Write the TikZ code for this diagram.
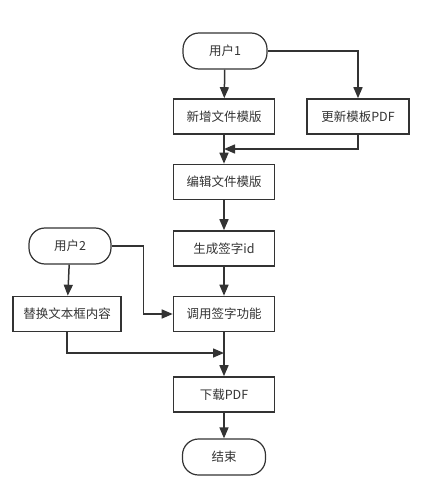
\documentclass[tikz,border=0pt]{standalone}
\usepackage{fontspec}
\setmainfont{Noto Sans CJK SC}
\usetikzlibrary{arrows.meta}
\definecolor{linegray}{HTML}{333333}
\tikzset{
  stepbox/.style={draw=linegray,line width=1.6pt,rectangle,minimum width=101pt,minimum height=35pt,inner sep=0pt,text=linegray},
  termbox/.style={draw=linegray,line width=1.2pt,rounded corners=16pt,minimum width=84pt,minimum height=36pt,inner sep=0pt,text=linegray},
  flow/.style={draw=linegray,line width=1.5pt,-{Triangle[length=11pt,width=9pt]}},
  plainflow/.style={draw=linegray,line width=1.5pt}
}
\begin{document}
\begin{tikzpicture}[x=1pt,y=-1pt,font=\fontsize{12.5}{15}\selectfont]
\useasboundingbox (0,0) rectangle (425,497);
\node[termbox] (user1) at (225,51) {用户1};
\node[stepbox] (addtpl) at (224,116.5) {新增文件模版};
\node[stepbox,minimum width=102pt] (updpdf) at (358,116.5) {更新模板PDF};
\node[stepbox] (edittpl) at (224,182) {编辑文件模版};
\node[stepbox] (signid) at (224,248.5) {生成签字id};
\node[stepbox] (callsign) at (224,314) {调用签字功能};
\node[termbox,minimum width=82pt] (user2) at (70,246) {用户2};
\node[stepbox,minimum width=108pt] (replace) at (67,314) {替换文本框内容};
\node[stepbox] (download) at (224,394.5) {下载PDF};
\node[termbox,minimum width=83pt] (finish) at (224,457) {结束};
\coordinate (merge1) at (224,149);
\coordinate (merge2) at (224,353);
\draw[flow] (user1) -- (addtpl);
\draw[flow] (user1.east) -| (updpdf.north);
\draw[flow] (addtpl) -- (edittpl);
\draw[flow] (updpdf.south) |- (merge1);
\draw[flow] (edittpl) -- (signid);
\draw[flow] (signid) -- (callsign);
\draw[flow] (user2) -- (replace);
\draw[flow] (user2.east) -- ++(32,0) |- (callsign.west);
\draw[flow] (replace.south) |- (merge2);
\draw[flow] (callsign) -- (download);
\draw[flow] (download) -- (finish);
\end{tikzpicture}
\end{document}
